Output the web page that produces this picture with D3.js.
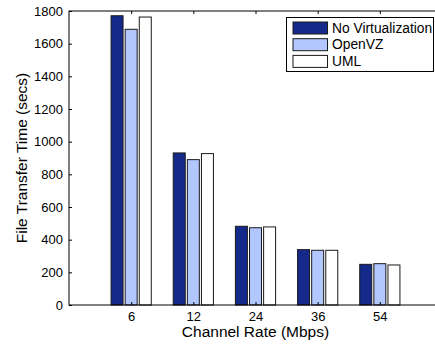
<!DOCTYPE html>
<html>
<head>
<meta charset="utf-8">
<script src="https://cdn.jsdelivr.net/npm/d3@7"></script>
<style>
  html, body { margin: 0; padding: 0; background: #fff; }
  svg { display: block; font-family: "Liberation Sans", Arial, Helvetica, sans-serif; }
</style>
</head>
<body>
<svg id="chart" width="435" height="345"></svg>
<script>
// Channel rates (Mbps) and transfer times (seconds) per configuration
const categories = ["6", "12", "24", "36", "54"];
const series = ["No Virtualization", "OpenVZ", "UML"];
const noVirt = [1771, 931, 482, 339, 249];
const openVZ = [1688, 890, 473, 335, 253];
const uml = [1763, 927, 478, 335, 245];
const yTicks = [0, 200, 400, 600, 800, 1000, 1200, 1400, 1600, 1800];

const values = [noVirt, openVZ, uml];
const colors = ["#15298a", "#b3c7ff", "#ffffff"];

const svg = d3.select("#chart");
const plotL = 69, plotT = 11, plotB = 305, plotR = 442;

// Categories sit at 1..N on a [0, N+1] axis
const x = d3.scaleLinear().domain([0, categories.length + 1]).range([plotL, plotR]);
const y = d3.scaleLinear().domain([0, 1800]).range([plotB, plotT]);
const unit = x(1) - x(0);
const offset = d3.scaleBand().domain(series)
  .range([-0.3233 * unit, 0.3233 * unit]).paddingInner(0.15);

// Bars
series.forEach((s, si) => {
  svg.append("g").selectAll("rect")
    .data(values[si])
    .join("rect")
    .attr("x", (d, i) => x(i + 1) + offset(s))
    .attr("y", d => y(d))
    .attr("width", offset.bandwidth())
    .attr("height", d => y(0) - y(d))
    .attr("fill", colors[si])
    .attr("stroke", "#1a1a1a")
    .attr("stroke-width", 1);
});

// Frame
svg.append("rect")
  .attr("x", plotL).attr("y", plotT)
  .attr("width", plotR - plotL).attr("height", plotB - plotT)
  .attr("fill", "none").attr("stroke", "#000").attr("stroke-width", 1);

// Y axis (ticks inward)
const yAxis = svg.append("g")
  .attr("transform", `translate(${plotL},0)`)
  .call(d3.axisLeft(y).tickValues(yTicks).tickFormat(d3.format("d"))
    .tickSize(-3).tickPadding(6));
yAxis.select(".domain").remove();
yAxis.selectAll("text").attr("font-size", 13).attr("fill", "#000")
  .attr("font-family", "Liberation Sans, Arial, sans-serif");

// X axis labels
const xAxis = svg.append("g")
  .attr("transform", `translate(0,${plotB})`)
  .call(d3.axisBottom(x).tickValues(d3.range(1, categories.length + 1))
    .tickFormat(i => categories[i - 1]).tickSize(-3).tickPadding(7));
xAxis.select(".domain").remove();
xAxis.selectAll("text").attr("font-size", 13).attr("fill", "#000")
  .attr("font-family", "Liberation Sans, Arial, sans-serif");

// Top ticks pointing down
svg.append("g")
  .attr("transform", `translate(0,${plotT})`)
  .call(d3.axisTop(x).tickValues(d3.range(1, categories.length + 1))
    .tickFormat("").tickSize(-3))
  .select(".domain").remove();

// Axis titles
svg.append("text")
  .attr("x", x(3)).attr("y", 337)
  .attr("text-anchor", "middle").attr("font-size", 15.5)
  .text("Channel Rate (Mbps)");

svg.append("text")
  .attr("transform", `translate(27,${(plotT + plotB) / 2}) rotate(-90)`)
  .attr("text-anchor", "middle").attr("font-size", 15.5)
  .text("File Transfer Time (secs)");

// Legend
const lg = svg.append("g");
lg.append("rect")
  .attr("x", 286.5).attr("y", 17.5).attr("width", 147).attr("height", 54)
  .attr("fill", "#fff").attr("stroke", "#000").attr("stroke-width", 1);
series.forEach((s, i) => {
  const cy = 28 + i * 16.7;
  lg.append("rect")
    .attr("x", 293).attr("y", cy - 6).attr("width", 34.5).attr("height", 12)
    .attr("fill", colors[i]).attr("stroke", "#1a1a1a").attr("stroke-width", 1);
  lg.append("text")
    .attr("x", 332).attr("y", cy + 4.5)
    .attr("font-size", 13.8)
    .text(s);
});
</script>
</body>
</html>
